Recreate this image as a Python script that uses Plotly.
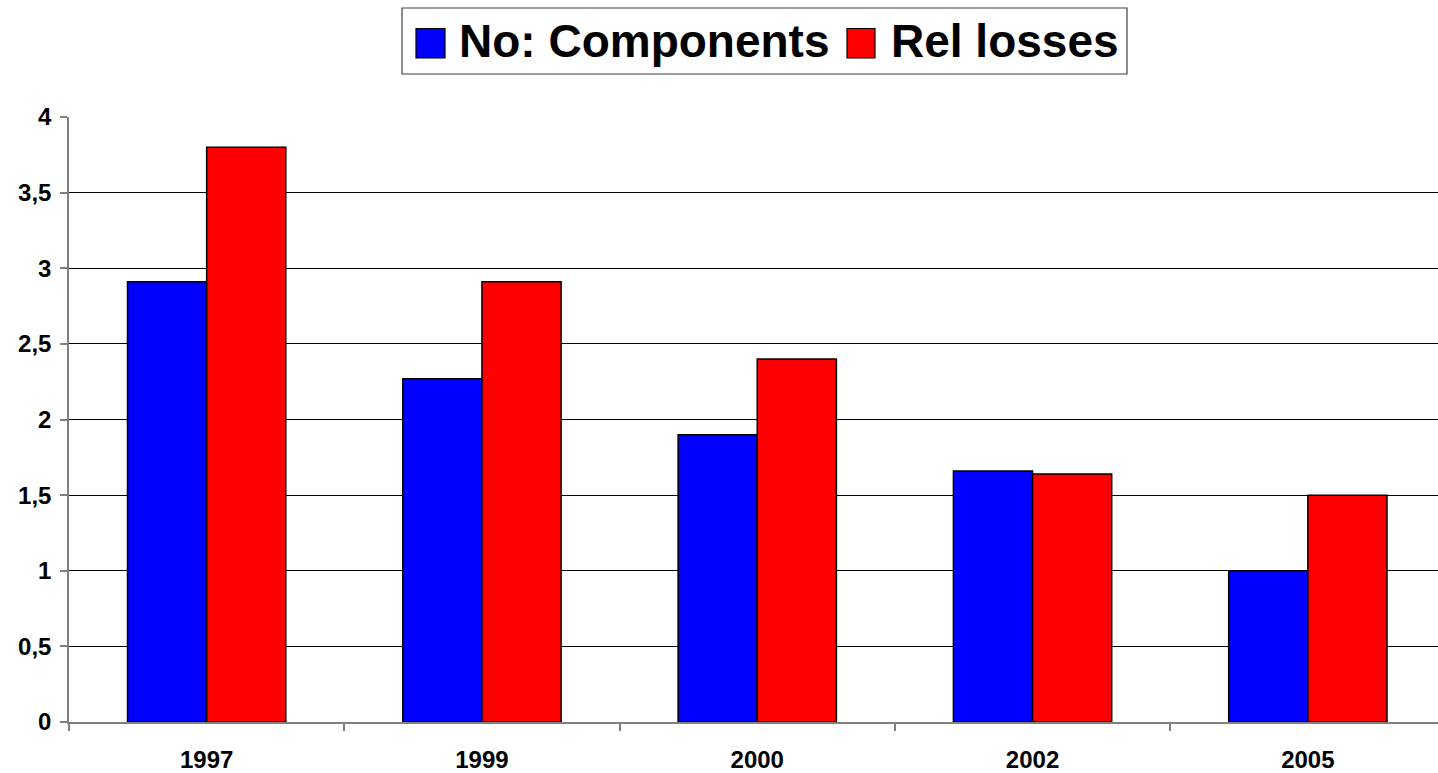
import plotly.graph_objects as go

years = ["1997", "1999", "2000", "2002", "2005"]
components = [2.91, 2.27, 1.90, 1.66, 1.00]
rel_losses = [3.80, 2.91, 2.40, 1.64, 1.50]
series_names = ["No: Components", "Rel losses"]
y_tickvals = [0, 0.5, 1, 1.5, 2, 2.5, 3, 3.5, 4]
y_ticktext = ["0", "0,5", "1", "1,5", "2", "2,5", "3", "3,5", "4"]

W, H = 1438, 773
L, R, T, B = 69, 0, 117, 51
plot_w = W - L - R
plot_h = H - T - B
cat_px = 275.3

def px_x(px):
    return (px - L) / plot_w

def px_y(py):
    return (H - B - py) / plot_h

FONT = "Liberation Sans, Arial, sans-serif"

fig = go.Figure()
fig.add_trace(go.Bar(x=years, y=components, name=series_names[0],
                     marker=dict(color="#0000FF", line=dict(color="#000000", width=1.5)),
                     showlegend=False))
fig.add_trace(go.Bar(x=years, y=rel_losses, name=series_names[1],
                     marker=dict(color="#FF0000", line=dict(color="#000000", width=1.5)),
                     showlegend=False))

# custom legend
shapes = [
    dict(type="rect", xref="paper", yref="paper",
         x0=px_x(402), x1=px_x(1127), y0=px_y(74), y1=px_y(8),
         line=dict(color="#404040", width=1.2), fillcolor="white", layer="above"),
    dict(type="rect", xref="paper", yref="paper",
         x0=px_x(416), x1=px_x(445), y0=px_y(58), y1=px_y(28.5),
         line=dict(color="#000000", width=1.2), fillcolor="#0000FF", layer="above"),
    dict(type="rect", xref="paper", yref="paper",
         x0=px_x(847), x1=px_x(875), y0=px_y(58), y1=px_y(28.5),
         line=dict(color="#000000", width=1.2), fillcolor="#FF0000", layer="above"),
]
annotations = [
    dict(text=series_names[0], xref="paper", yref="paper", x=px_x(457), y=px_y(41),
         xanchor="left", yanchor="middle", showarrow=False,
         font=dict(family=FONT, size=46, color="black", weight="bold")),
    dict(text=series_names[1], xref="paper", yref="paper", x=px_x(889), y=px_y(41),
         xanchor="left", yanchor="middle", showarrow=False,
         font=dict(family=FONT, size=46, color="black", weight="bold")),
]

fig.update_layout(
    width=W, height=H,
    margin=dict(l=L, r=R, t=T, b=B, pad=0),
    paper_bgcolor="white", plot_bgcolor="white",
    barmode="group", bargap=0.425, bargroupgap=0,
    font=dict(family=FONT, color="black"),
    shapes=shapes, annotations=annotations,
    showlegend=False,
)
fig.update_xaxes(
    type="category", range=[-0.5, -0.5 + plot_w / cat_px],
    tickson="boundaries", ticks="outside", ticklen=7, tickcolor="#808080", tickwidth=1.5,
    showline=True, linecolor="#808080", linewidth=1.5, showgrid=False,
    tickfont=dict(family=FONT, size=24, color="black", weight="bold"),
    ticklabelstandoff=15,
)
fig.update_yaxes(
    range=[0, 4], tickvals=y_tickvals, ticktext=y_ticktext,
    ticks="outside", ticklen=7, tickcolor="#808080", tickwidth=1.5,
    showline=True, linecolor="#808080", linewidth=1.5,
    showgrid=True, gridcolor="#000000", gridwidth=1,
    zeroline=False,
    tickfont=dict(family=FONT, size=24, color="black", weight="bold"),
    ticklabelstandoff=4,
)

fig.write_html("out.html")
